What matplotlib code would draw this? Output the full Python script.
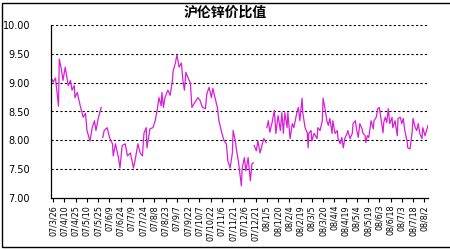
import numpy as np
import matplotlib
matplotlib.use("Agg")
import matplotlib.pyplot as plt
from matplotlib.patches import Rectangle

plt.rcParams['font.family'] = ['Noto Sans CJK SC', 'DejaVu Sans']

# days since 07/3/26 and SHFE/LME zinc price ratio (nan = gap in the line)
days = [-3, 0, 3, 7, 8, 11, 13, 16, 20, 23, 25, 28, 29, 32, 36, 40, 43, 45, 49, 52,
        55, 57, 60, 64, 65,
        66, 68, 72, 75, 79, 80, 83, 87, 89, 92, 96, 99, 103, 107, 109, 113, 116, 119,
        121, 124, 125, 129, 133, 136, 139, 141, 144, 145, 147, 149, 153, 156, 159, 160,
        163, 165, 168, 171, 173, 175, 177, 180, 183, 185, 189, 193, 196, 199, 203, 205,
        208, 211, 213, 216, 219, 221, 225, 228, 231, 233, 236, 239, 240, 243, 244, 247,
        249, 251, 252, 255, 257, 260, 263, 265, 267, 267.5,
        268, 271, 273, 276, 279, 281, 284, 284.5,
        285, 287, 289, 292, 295, 297, 300, 303, 305, 307, 309, 312, 313, 316, 319,
        321, 325, 327, 329, 332, 333, 336, 339, 340, 341, 344, 345, 348, 352, 353, 356,
        359, 360, 363, 365, 367, 369, 372, 373, 376, 379, 380, 383, 385, 387, 389, 392,
        393, 396, 399, 400, 403, 405, 407, 409, 412, 413, 416, 417, 419, 421, 424, 427,
        428, 431, 433, 435, 437, 440, 441, 443, 445, 447, 449, 452, 453, 456, 459, 460,
        463, 465, 467, 469, 472, 473, 476, 479, 480, 483, 485, 487, 489, 492, 493, 496,
        499, 500]
ratio = [9.09, 9.01, 9.08, 8.59, 9.41, 9.22, 9.04, 9.27, 8.95, 9.04, 8.87, 8.95, 8.74,
         8.83, 8.60, 8.40, 8.47, 8.17, 7.99, 8.22, 8.34, 8.17, 8.38, 8.57, np.nan,
         8.05, 8.17, 8.22, 8.05, 7.94, 7.73, 7.94, 7.70, 7.52, 7.91, 7.94, 7.73, 7.78,
         7.52, 7.64, 7.94, 7.78, 7.73, 8.12, 8.22, 7.87, 8.20, 8.22, 8.34, 8.55, 8.74,
         8.60, 8.83, 8.57, 8.74, 8.87, 8.78, 9.04, 9.21, 9.34, 9.48, 9.27, 9.34, 9.04,
         8.87, 9.18, 9.08, 8.99, 8.57, 8.66, 8.74, 8.69, 8.57, 8.55, 8.81, 8.92, 8.74,
         8.90, 8.73, 8.57, 8.34, 8.12, 7.99, 7.94, 7.64, 7.52, 7.78, 8.17, 7.99, 7.87,
         7.64, 7.42, 7.21, 7.51, 7.70, 7.47, 7.70, 7.30, 7.59, 7.61, np.nan,
         7.91, 7.82, 7.99, 7.78, 7.94, 8.03, 7.96, np.nan,
         8.22, 8.34, 8.14, 8.31, 8.52, 8.12, 8.43, 8.17, 8.48, 8.12, 8.48, 8.22, 8.48,
         8.03, 8.29, 8.22, 8.48, 8.57, 8.34, 8.73, 8.47, 8.22, 8.13, 7.87, 8.12, 8.17,
         7.99, 8.12, 8.03, 8.22, 8.17, 8.34, 8.73, 8.52, 8.34, 8.26, 8.38, 8.12, 8.34,
         8.12, 8.17, 8.03, 7.94, 8.05, 7.87, 8.03, 8.12, 8.17, 8.03, 8.12, 8.29, 8.34,
         8.17, 8.05, 8.29, 8.20, 8.13, 8.08, 7.96, 8.08, 8.05, 8.34, 8.20, 8.34, 8.40,
         8.55, 8.57, 8.40, 8.13, 8.31, 8.40, 8.31, 8.55, 8.29, 8.40, 8.22, 8.34, 8.08,
         8.38, 8.40, 8.29, 8.38, 8.17, 7.99, 7.87, 7.85, 8.17, 8.38, 8.22, 8.17, 8.29,
         8.12, 8.03, 8.22, 8.08, 8.22, 8.26]

tick_labels = ["07/3/26", "07/4/10", "07/4/25", "07/5/10", "07/5/25", "07/6/9",
               "07/6/24", "07/7/9", "07/7/24", "07/8/8", "07/8/23", "07/9/7",
               "07/9/22", "07/10/7", "07/10/22", "07/11/6", "07/11/21", "07/12/6",
               "07/12/21", "08/1/5", "08/1/20", "08/2/4", "08/2/19", "08/3/5",
               "08/3/20", "08/4/4", "08/4/19", "08/5/4", "08/5/19", "08/6/3",
               "08/6/18", "08/7/3", "08/7/18", "08/8/2"]
tick_days = np.arange(len(tick_labels)) * 15
y_ticks = [7.0, 7.5, 8.0, 8.5, 9.0, 9.5, 10.0]

fig = plt.figure(figsize=(4.5, 2.5), dpi=100)
ax = fig.add_axes([51/450, 52/250, 377/450, 173/250])

ax.plot(days, ratio, color='#d81ed8', lw=0.9)

ax.set_xlim(-3, 500)
ax.set_ylim(7, 10)
ax.set_yticks(y_ticks)
ax.set_yticklabels(["%.2f" % v for v in y_ticks], fontsize=7, family='DejaVu Sans')
ax.set_xticks(tick_days)
ax.set_xticklabels(tick_labels, rotation=90, fontsize=5.8, family='DejaVu Sans')
ax.tick_params(axis='y', length=0, pad=15)
ax.tick_params(axis='x', length=3, width=0.8, pad=2, direction='out')

for v in y_ticks[1:]:
    ax.axhline(v, color='black', lw=0.8, ls=(0, (2, 2)), zorder=0)

for s in ['top', 'right']:
    ax.spines[s].set_visible(False)
for s in ['left', 'bottom']:
    ax.spines[s].set_linewidth(0.9)

fig.text(0.5, 1 - 13/250, "沪伦锌价比值", ha='center', va='center',
         fontsize=10, fontweight='bold')

fig.patches.append(Rectangle((2/450, 3/250), 1.0, 244/250, transform=fig.transFigure,
                             fill=False, edgecolor='black', lw=1.0))

fig.savefig("out.png", dpi=100)
